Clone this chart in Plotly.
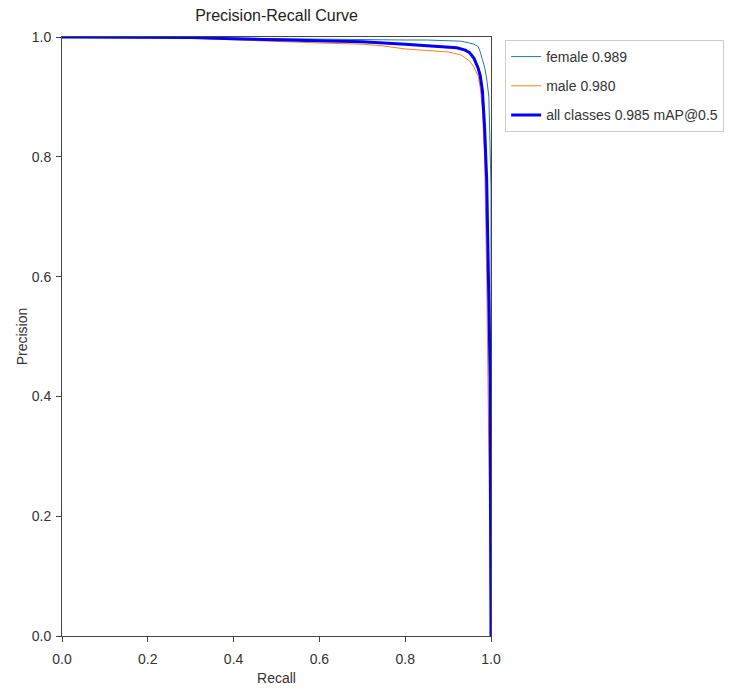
import plotly.graph_objects as go

# Data
female_recall = [0.0, 0.1, 0.2, 0.3, 0.4, 0.5, 0.6, 0.7, 0.8, 0.85, 0.9, 0.93, 0.95, 0.96, 0.97, 0.975, 0.98, 0.985, 0.99, 0.995, 1.0, 1.0]
female_precision = [1.0, 1.0, 1.0, 1.0, 0.998, 0.997, 0.996, 0.996, 0.995, 0.995, 0.994, 0.993, 0.99, 0.988, 0.984, 0.975, 0.962, 0.95, 0.93, 0.9, 0.75, 0.0]

male_recall = [0.0, 0.1, 0.2, 0.3, 0.4, 0.5, 0.6, 0.7, 0.75, 0.8, 0.85, 0.9, 0.93, 0.95, 0.96, 0.97, 0.975, 0.98, 0.985, 0.99, 0.995, 1.0]
male_precision = [1.0, 1.0, 1.0, 0.998, 0.995, 0.992, 0.99, 0.988, 0.985, 0.98, 0.977, 0.975, 0.97, 0.96, 0.95, 0.935, 0.915, 0.88, 0.8, 0.6, 0.3, 0.0]

all_recall = [0.0, 0.1, 0.2, 0.3, 0.4, 0.5, 0.6, 0.7, 0.8, 0.85, 0.9, 0.92, 0.94, 0.95, 0.96, 0.97, 0.975, 0.98, 0.985, 0.99, 0.995, 0.998, 1.0]
all_precision = [1.0, 1.0, 1.0, 0.999, 0.997, 0.995, 0.993, 0.992, 0.988, 0.986, 0.984, 0.982, 0.978, 0.974, 0.965, 0.948, 0.935, 0.91, 0.85, 0.76, 0.56, 0.43, 0.0]

series_names = ["female 0.989", "male 0.980", "all classes 0.985 mAP@0.5"]
tick_vals = [0.0, 0.2, 0.4, 0.6, 0.8, 1.0]
tick_text = ["0.0", "0.2", "0.4", "0.6", "0.8", "1.0"]

FONT = "Liberation Sans Narrow, Liberation Sans, sans-serif"

fig = go.Figure()
fig.add_trace(go.Scatter(x=female_recall, y=female_precision, mode="lines",
                         name=series_names[0], legendgroup="f",
                         line=dict(color="#1f77b4", width=1)))
fig.add_trace(go.Scatter(x=male_recall, y=male_precision, mode="lines",
                         name=series_names[1], legendgroup="m",
                         line=dict(color="#ff7f0e", width=1)))
fig.add_trace(go.Scatter(x=all_recall, y=all_precision, mode="lines",
                         name=series_names[2], legendgroup="a",
                         line=dict(color="#0000ff", width=3)))

axis_common = dict(
    range=[0, 1], tickvals=tick_vals, ticktext=tick_text,
    showgrid=False, zeroline=False, showline=True, mirror=True,
    linecolor="#444", linewidth=1, ticks="outside", ticklen=5,
    tickcolor="#444", tickfont=dict(size=14, color="#333"),
    automargin=False,
)

W, H = 730, 683
L, R, T, B = 54, 247, 29, 55

fig.update_layout(
    width=W, height=H,
    margin=dict(l=L, r=R, t=T, b=B, autoexpand=False),
    paper_bgcolor="white", plot_bgcolor="white",
    font=dict(family=FONT, size=14, color="#333"),
    title=dict(text="Precision-Recall Curve", x=(L + (W - R)) / 2 / W, xanchor="center",
               y=1 - 7 / H, yanchor="middle", font=dict(size=16, color="#222")),
    xaxis=dict(title=dict(text="Recall", standoff=7, font=dict(size=14)),
               ticklabelstandoff=5, **axis_common),
    yaxis=dict(title=dict(text="Precision", standoff=0, font=dict(size=14)),
               ticklabelstandoff=2, **axis_common),
    legend=dict(x=1.033, y=0.995, xanchor="left", yanchor="top",
                bordercolor="#cccccc", borderwidth=1, bgcolor="white",
                font=dict(size=14, color="#333"), tracegroupgap=8),
    showlegend=True,
)

fig.write_html("out.html")
